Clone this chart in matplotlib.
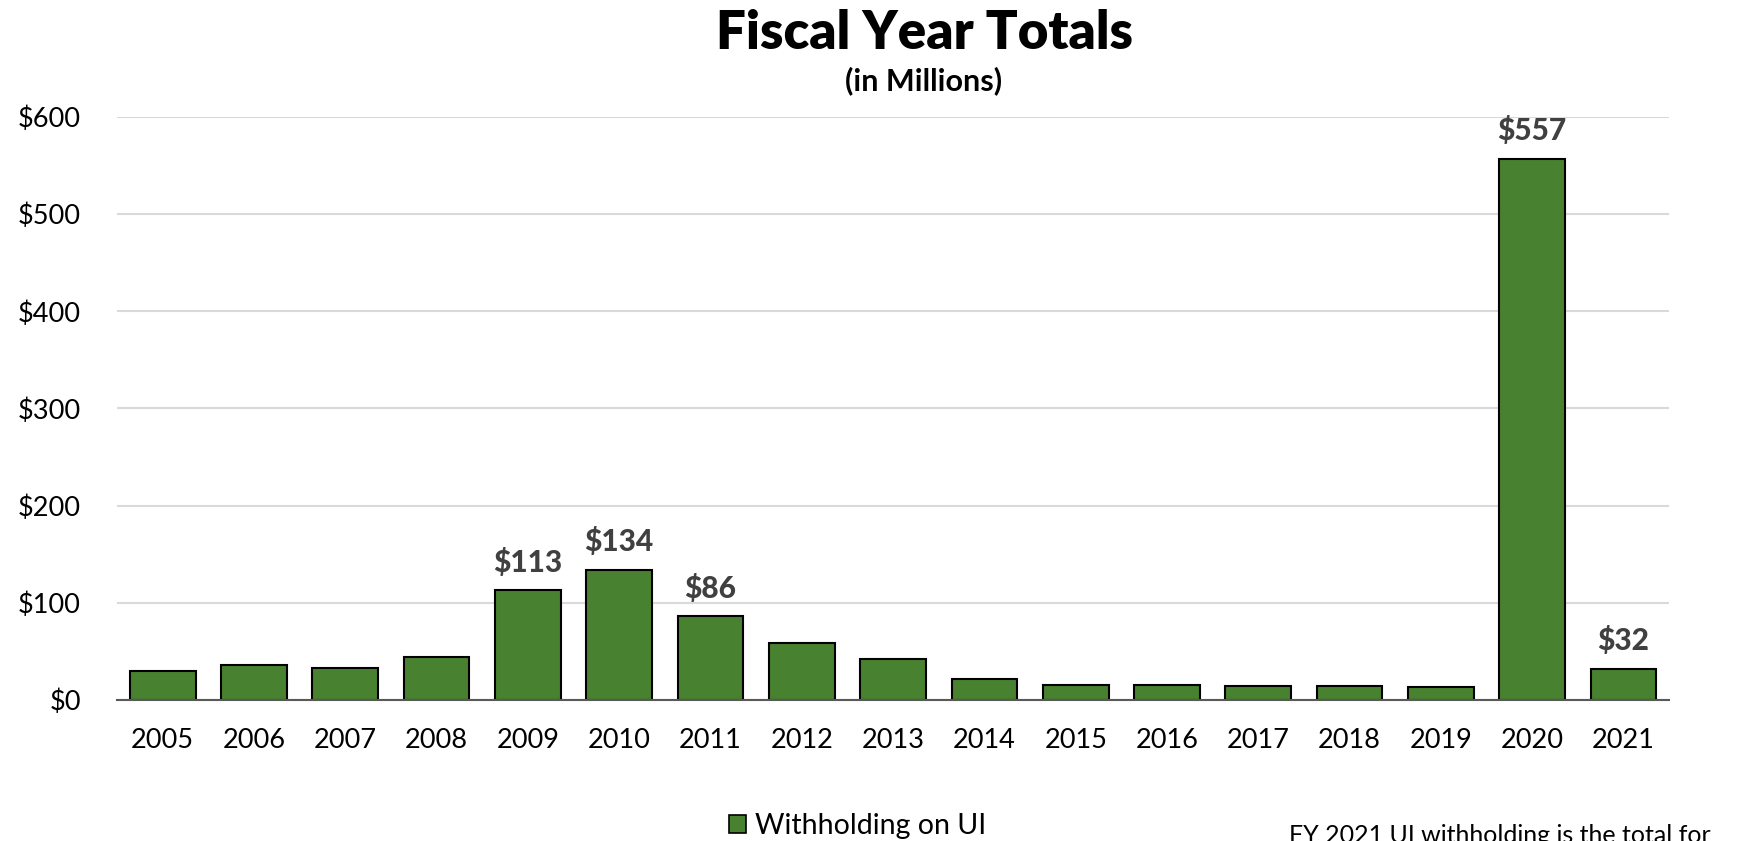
import numpy as np
import matplotlib
matplotlib.use("Agg")
import matplotlib.pyplot as plt
from matplotlib.ticker import FuncFormatter
from matplotlib.patches import Patch

plt.rcParams['font.family'] = ['Lato', 'DejaVu Sans']

years = ['2005', '2006', '2007', '2008', '2009', '2010', '2011', '2012', '2013',
         '2014', '2015', '2016', '2017', '2018', '2019', '2020', '2021']
withholding = [29.5, 36, 33, 44, 113, 134, 86, 59, 42, 22, 15.5, 15.5, 14.5, 14, 13.5, 557, 32]
labelled = ['2009', '2010', '2011', '2020', '2021']

bar_color = '#48812F'

fig = plt.figure(figsize=(17.5, 8.41), dpi=100)
ax = fig.add_axes([0.0669, 0.1677, 0.8869, 0.6932])

x = np.arange(len(years))
bars = ax.bar(x, withholding, width=0.72, color=bar_color, edgecolor='black',
              linewidth=1.5, zorder=3)

# value labels only on the notable years
for b, yr, v in zip(bars, years, withholding):
    if yr in labelled:
        ax.text(b.get_x() + b.get_width() / 2, v + 14, '${:.0f}'.format(v),
                ha='center', va='bottom', fontsize=21.5, fontweight='black',
                color='#404040')

ax.set_xlim(-0.5, len(years) - 0.5)
ax.set_ylim(0, 600)
ax.set_yticks(np.arange(0, 601, 100))
ax.yaxis.set_major_formatter(FuncFormatter(lambda v, p: '${:.0f}'.format(v)))
ax.set_xticks(x)
ax.set_xticklabels(years)
ax.tick_params(axis='both', length=0, labelsize=19.5, colors='black')
ax.tick_params(axis='x', pad=20)
ax.tick_params(axis='y', pad=26)
ax.grid(axis='y', color='#d9d9d9', linewidth=1.5, zorder=0)
ax.set_axisbelow(True)
for s in ['top', 'right', 'left']:
    ax.spines[s].set_visible(False)
ax.spines['bottom'].set_color('#595959')
ax.spines['bottom'].set_linewidth(1.5)
ax.spines['bottom'].set_zorder(4)

fig.text(0.528, 0.9596, 'Fiscal Year Totals', ha='center', va='center',
         fontsize=38, fontweight='heavy')
fig.text(0.528, 0.9037, '(in Millions)', ha='center', va='center',
         fontsize=22, fontweight='bold')

fig.legend(handles=[Patch(facecolor=bar_color, edgecolor='black', linewidth=1.2)],
           labels=['Withholding on UI'], loc='center', bbox_to_anchor=(0.490, 0.018),
           frameon=False, fontsize=20.5, handlelength=0.6, handleheight=0.6,
           handletextpad=0.3)

fig.text(0.7366, 0.006, 'FY 2021 UI withholding is the total for', ha='left',
         va='center', fontsize=18)

fig.savefig('out.png', dpi=100)
